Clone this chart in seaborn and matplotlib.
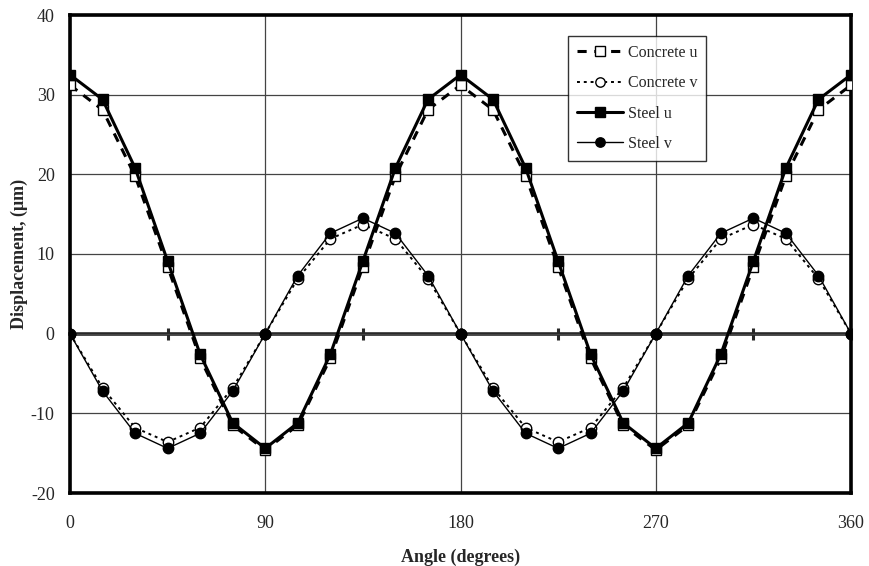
import matplotlib
matplotlib.use("Agg")
import matplotlib.pyplot as plt
import seaborn as sns
import pandas as pd
from matplotlib.lines import Line2D

angles = list(range(0, 361, 15))
concrete_u = [31.2, 28.1, 19.8, 8.4, -3.1, -11.5, -14.6, -11.5, -3.1, 8.4, 19.8, 28.1, 31.2,
              28.1, 19.8, 8.4, -3.1, -11.5, -14.6, -11.5, -3.1, 8.4, 19.8, 28.1, 31.2]
concrete_v = [0, -6.8, -11.8, -13.6, -11.8, -6.8, 0, 6.9, 11.9, 13.7, 11.9, 6.9, 0,
              -6.8, -11.8, -13.6, -11.8, -6.8, 0, 6.9, 11.9, 13.7, 11.9, 6.9, 0]
steel_u = [32.5, 29.4, 20.8, 9.1, -2.6, -11.2, -14.4, -11.2, -2.6, 9.1, 20.8, 29.4, 32.5,
           29.4, 20.8, 9.1, -2.6, -11.2, -14.4, -11.2, -2.6, 9.1, 20.8, 29.4, 32.5]
steel_v = [0, -7.2, -12.5, -14.4, -12.5, -7.2, 0, 7.3, 12.6, 14.5, 12.6, 7.3, 0,
           -7.2, -12.5, -14.4, -12.5, -7.2, 0, 7.3, 12.6, 14.5, 12.6, 7.3, 0]
series_names = ["Concrete u", "Concrete v", "Steel u", "Steel v"]
x_ticks = [0, 90, 180, 270, 360]
y_ticks = [-20, -10, 0, 10, 20, 30, 40]

sns.set_style("white")
plt.rcParams["font.family"] = ["Liberation Serif", "DejaVu Serif"]
plt.rcParams["axes.unicode_minus"] = False

df = pd.DataFrame({
    "angle": angles * 4,
    "value": concrete_u + concrete_v + steel_u + steel_v,
    "series": sum([[n] * len(angles) for n in series_names], []),
})

styles = {
    "Concrete u": dict(ls=(0, (3, 2.5)), lw=2.2, marker="s", mfc="white", ms=7.5),
    "Concrete v": dict(ls=(0, (1.5, 2)), lw=1.4, marker="o", mfc="white", ms=7.5),
    "Steel u": dict(ls="-", lw=2.2, marker="s", mfc="black", ms=7.5),
    "Steel v": dict(ls="-", lw=1.0, marker="o", mfc="black", ms=7.5),
}

fig = plt.figure(figsize=(8.69, 5.66), dpi=100)
ax = fig.add_axes([70 / 869, 1 - 493 / 566, 781 / 869, 478 / 566])

for name in series_names:
    st = styles[name]
    sns.lineplot(data=df[df.series == name], x="angle", y="value", ax=ax,
                 color="black", linestyle=st["ls"], linewidth=st["lw"],
                 marker=st["marker"], markersize=st["ms"],
                 markerfacecolor=st["mfc"], markeredgecolor="black",
                 markeredgewidth=1.0, legend=False, zorder=3)

ax.set_xlim(0, 360)
ax.set_ylim(-20, 40)
ax.set_xticks(x_ticks)
ax.set_yticks(y_ticks)
ax.grid(True, color="#444444", linewidth=0.9)
ax.set_axisbelow(True)
for sp in ax.spines.values():
    sp.set_linewidth(2.6)
    sp.set_color("black")
ax.tick_params(axis="x", length=0, pad=16, labelsize=13)
ax.tick_params(axis="y", direction="out", length=5, width=2, pad=6, labelsize=13)
ax.set_xlabel("Angle (degrees)", fontsize=13, fontweight="bold", labelpad=12)
ax.set_ylabel("Displacement, (\u03bcm)", fontsize=13, fontweight="bold", labelpad=2)

# zero axis with 45-degree tick marks
sec = ax.secondary_xaxis(1 / 3)
sec.set_xticks(list(range(0, 361, 45)))
sec.set_xticklabels([])
sec.tick_params(direction="inout", length=8, width=2.2)
sec.spines["bottom"].set_linewidth(2.6)
sec.spines["top"].set_visible(False)

handles = []
for name in series_names:
    st = styles[name]
    handles.append(Line2D([], [], color="black", linestyle=st["ls"], linewidth=st["lw"],
                          marker=st["marker"], markersize=st["ms"] * 0.9,
                          markerfacecolor=st["mfc"], markeredgecolor="black"))
leg = ax.legend(handles, series_names, loc="upper left", bbox_to_anchor=(498 / 781, 1 - 21 / 478),
                frameon=True, fancybox=False, edgecolor="black", fontsize=11.5,
                handlelength=2.9, labelspacing=0.9, borderpad=0.55, handletextpad=0.3,
                borderaxespad=0)
leg.get_frame().set_linewidth(1.0)
leg.set_zorder(5)

fig.savefig("out.png", dpi=100)
